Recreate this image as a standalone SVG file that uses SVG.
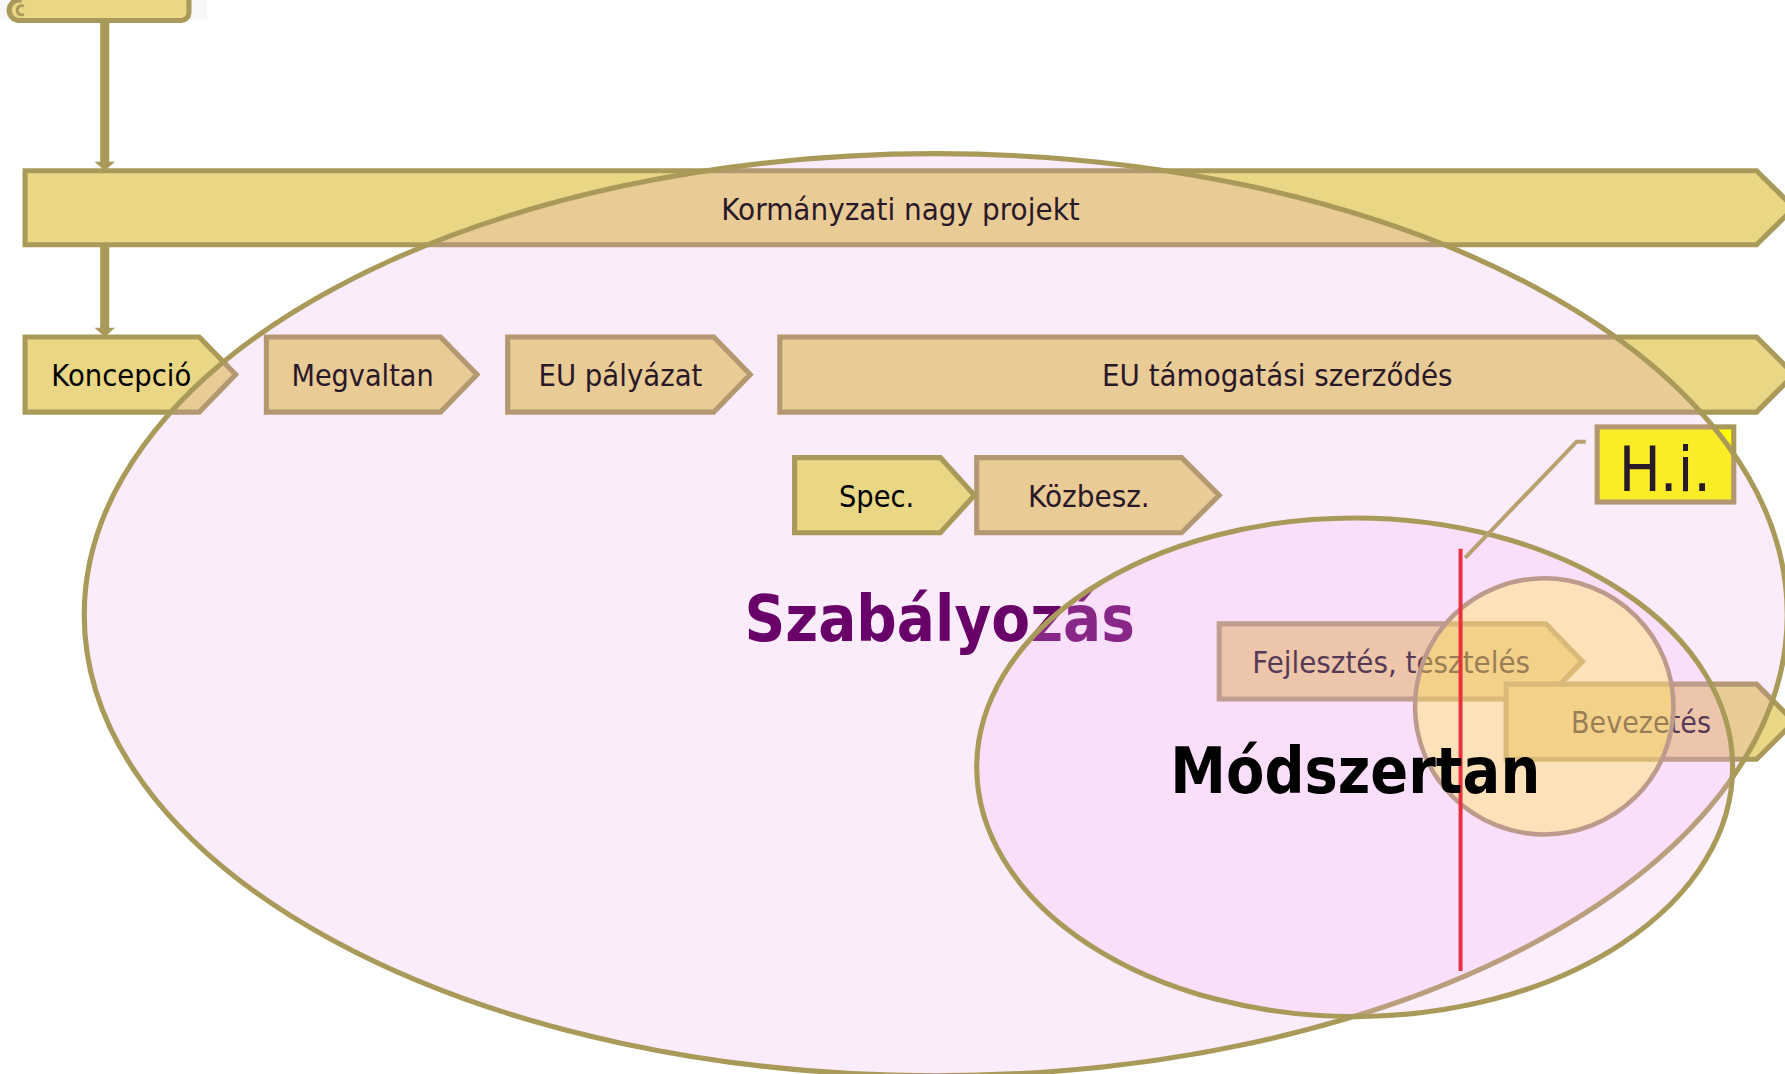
<svg xmlns="http://www.w3.org/2000/svg" width="1785" height="1074" viewBox="0 0 1785 1074">
<style>
.box{fill:#EAD785;stroke:#A99A5A;stroke-width:4.5}
.lbl{font-family:"DejaVu Sans","Liberation Sans",sans-serif;font-size:26.5px;fill:#000;text-anchor:middle}
.ov{fill:#E991E9;fill-opacity:0.172}
.ov2{fill:#F7B0F5;fill-opacity:0.22}
.ring{fill:none;stroke:#A99A5A;stroke-width:4.5}
.conn{stroke:#A99A5A;stroke-width:8;fill:none}
.big{font-family:"DejaVu Sans","Liberation Sans",sans-serif;font-weight:bold;font-size:56px;text-anchor:middle}
</style>
<rect width="1785" height="1074" fill="#FFFFFF"/>
<g transform="scale(1.13839)">
  <g id="scroll">
    <rect x="0" y="0" width="182" height="17" fill="#F7F7F9"/>
    <path d="M20,-8 H166 V11 A7,7 0 0 1 159,18 H17 A9,9 0 0 1 17,0 Z" class="box"/>
    <path d="M21,5.5 A4,4 0 1 0 21,12.5" fill="none" stroke="#A99A5A" stroke-width="2.5"/>
  </g>
  <g id="connectors">
    <line x1="92" y1="19" x2="92" y2="143" class="conn"/>
    <path d="M83,142 L101,142 L92,150 Z" fill="#A99A5A"/>
    <line x1="92" y1="217" x2="92" y2="289" class="conn"/>
    <path d="M83,288 L101,288 L92,296 Z" fill="#A99A5A"/>
  </g>
  <g id="kormanyzati">
    <polygon class="box" points="22,150 1543,150 1576,182.5 1543,215 22,215"/>
    <text class="lbl" x="791" y="193" textLength="315" lengthAdjust="spacingAndGlyphs">Kormányzati nagy projekt</text>
  </g>
  <g id="koncepcio">
    <polygon class="box" points="22,296 175,296 207,329 175,362 22,362"/>
    <text class="lbl" x="106.5" y="339" textLength="123" lengthAdjust="spacingAndGlyphs">Koncepció</text>
  </g>
  <g id="megvaltan">
    <polygon class="box" points="234,296 387,296 419,329 387,362 234,362"/>
    <text class="lbl" x="318.5" y="339" textLength="125" lengthAdjust="spacingAndGlyphs">Megvaltan</text>
  </g>
  <g id="eu-palyazat">
    <polygon class="box" points="446,296 627,296 659,329 627,362 446,362"/>
    <text class="lbl" x="545" y="339" textLength="144" lengthAdjust="spacingAndGlyphs">EU pályázat</text>
  </g>
  <g id="eu-tamogatasi">
    <polygon class="box" points="685,296 1543,296 1576,329 1543,362 685,362"/>
    <text class="lbl" x="1122" y="339" textLength="308" lengthAdjust="spacingAndGlyphs">EU támogatási szerződés</text>
  </g>
  <g id="kozbesz">
    <polygon class="box" points="858,402 1038,402 1071,435 1038,468 858,468"/>
    <text class="lbl" x="956.5" y="445" textLength="107" lengthAdjust="spacingAndGlyphs">Közbesz.</text>
  </g>
  <g id="fejlesztes">
    <polygon class="box" points="1071,548 1358,548 1390,581 1358,614 1071,614"/>
    <text class="lbl" x="1222" y="591" textLength="244" lengthAdjust="spacingAndGlyphs">Fejlesztés, tesztelés</text>
  </g>
  <g id="bevezetes">
    <polygon class="box" points="1323,601 1543,601 1576,634 1543,667 1323,667"/>
    <text class="lbl" x="1441.5" y="644" textLength="123" lengthAdjust="spacingAndGlyphs">Bevezetés</text>
  </g>
  <g id="hi">
    <rect x="1403" y="375" width="120" height="66" fill="#FFFF00" stroke="#A99A5A" stroke-width="4.5"/>
    <text x="1462.5" y="431" font-family="DejaVu Sans, Liberation Sans, sans-serif" font-size="54" fill="#000" text-anchor="middle" textLength="81" lengthAdjust="spacingAndGlyphs">H.i.</text>
  </g>
  <g id="szabalyozas">
    <ellipse class="ov" cx="822" cy="540" rx="748" ry="405"/>
    <ellipse class="ring" cx="822" cy="540" rx="748" ry="405"/>
  </g>
  <g id="spec">
    <polygon class="box" points="698,402 826,402 856,435 826,468 698,468"/>
    <text class="lbl" x="770" y="445" textLength="66" lengthAdjust="spacingAndGlyphs">Spec.</text>
  </g>
  <g id="szabalyozas-label">
    <text class="big" x="825.5" y="563" fill="#690069" textLength="343" lengthAdjust="spacingAndGlyphs">Szabályozás</text>
  </g>
  <g id="modszertan">
    <ellipse class="ov2" cx="1190" cy="674" rx="332" ry="219" stroke="#A99A5A" stroke-width="4.5"/>
  </g>
  <g id="bevezetes-kor">
    <ellipse cx="1356.5" cy="620.5" rx="113.5" ry="112.5" fill="#FFE458" fill-opacity="0.4" stroke="#BE9A8C" stroke-width="4"/>
  </g>
  <g id="callout">
    <polyline points="1393,388 1385,388 1287,490" fill="none" stroke="#B8A070" stroke-width="3.5"/>
  </g>
  <g id="hatarido">
    <line x1="1283" y1="482" x2="1283" y2="853" stroke="#E8303F" stroke-width="3.5"/>
  </g>
  <g id="modszertan-label">
    <text class="big" x="1190.5" y="697" fill="#000000" textLength="325" lengthAdjust="spacingAndGlyphs">Módszertan</text>
  </g>
</g>
</svg>
